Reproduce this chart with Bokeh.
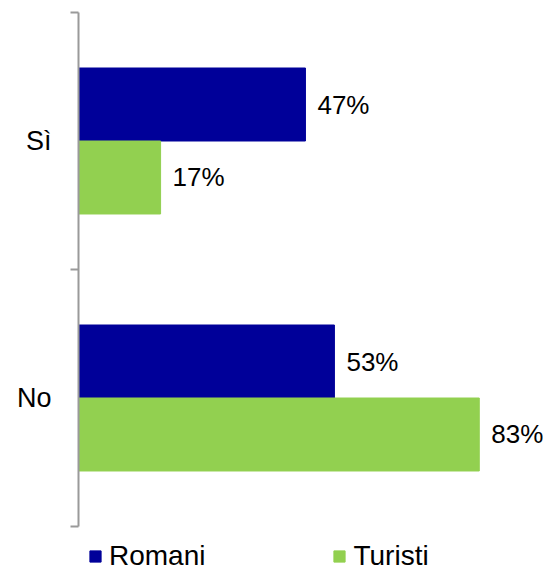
from bokeh.plotting import figure
from bokeh.models import Range1d, FixedTicker, ColumnDataSource, Legend, LegendItem
from bokeh.transform import dodge
from bokeh.embed import file_html
from bokeh.resources import INLINE
from bokeh.core.properties import value

categories = ["No", "Sì"]
romani = [53, 47]
turisti = [83, 17]
series_names = ["Romani", "Turisti"]
colors = ["#000099", "#92D050"]

ypos = [i + 0.5 for i in range(len(categories))]
src = ColumnDataSource(dict(
    y=ypos, romani=romani, turisti=turisti,
    romani_lbl=[f"{v}%" for v in romani],
    turisti_lbl=[f"{v}%" for v in turisti],
))

FONT = "Liberation Sans"
n = len(categories)
extra = 44 / 257  # room under the last category for the legend

p = figure(width=543, height=570, output_backend="svg", toolbar_location=None,
           x_range=Range1d(0, 96.3), y_range=Range1d(-extra, n),
           min_border_left=78, min_border_right=0, min_border_top=12,
           min_border_bottom=0)
p.outline_line_color = None
p.xgrid.visible = False
p.ygrid.visible = False
p.xaxis.visible = False

off = 0.142
h = 0.284
r1 = p.hbar(y=dodge("y", off, range=p.y_range), right="romani", left=0, height=h,
            color=colors[0], source=src)
r2 = p.hbar(y=dodge("y", -off, range=p.y_range), right="turisti", left=0, height=h,
            color=colors[1], source=src)

p.text(x="romani", y=dodge("y", off, range=p.y_range), text="romani_lbl", source=src,
       x_offset=12, text_baseline="middle", text_font=value(FONT),
       text_font_size="26px", text_color="#000000")
p.text(x="turisti", y=dodge("y", -off, range=p.y_range), text="turisti_lbl", source=src,
       x_offset=12, text_baseline="middle", text_font=value(FONT),
       text_font_size="26px", text_color="#000000")

yax = p.yaxis[0]
yax.bounds = (0, n)
yax.ticker = FixedTicker(ticks=ypos, minor_ticks=list(range(n + 1)))
yax.major_label_overrides = {y: c for y, c in zip(ypos, categories)}
yax.major_tick_line_color = None
yax.major_tick_out = 0
yax.major_tick_in = 0
yax.minor_tick_out = 8
yax.minor_tick_in = 0
yax.minor_tick_line_color = "#9A9A9A"
yax.minor_tick_line_width = 2
yax.axis_line_color = "#9A9A9A"
yax.axis_line_width = 2
yax.major_label_text_font = FONT
yax.major_label_text_font_size = "27px"
yax.major_label_text_color = "#000000"
yax.major_label_standoff = 19

legend = Legend(items=[LegendItem(label=series_names[0], renderers=[r1]),
                       LegendItem(label=series_names[1], renderers=[r2])],
                orientation="horizontal", location=(10, -2),
                glyph_width=14, glyph_height=14, label_standoff=7, spacing=127,
                padding=0, margin=0, border_line_color=None,
                background_fill_alpha=0,
                label_text_font=FONT, label_text_font_size="28px",
                label_text_color="#000000")
p.add_layout(legend, "center")

open("out.html", "w").write(file_html(p, INLINE))
